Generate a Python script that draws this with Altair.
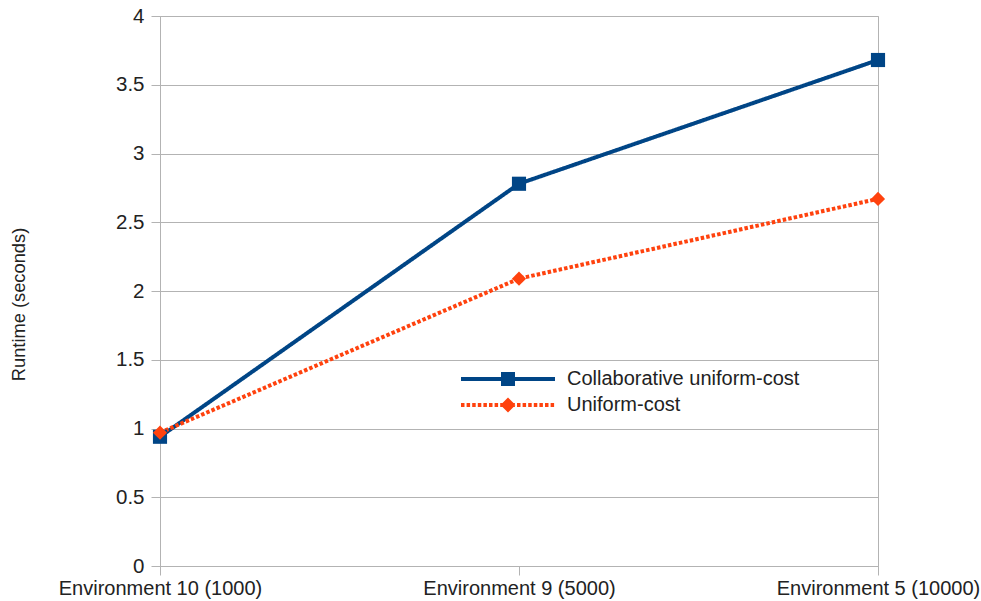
import altair as alt
import pandas as pd

categories = ["Environment 10 (1000)", "Environment 9 (5000)", "Environment 5 (10000)"]
series = ["Collaborative uniform-cost", "Uniform-cost"]
collab_values = [0.94, 2.78, 3.68]
uniform_values = [0.97, 2.09, 2.67]
y_ticks = [0, 0.5, 1, 1.5, 2, 2.5, 3, 3.5, 4]

rows = []
for s, vals in zip(series, [collab_values, uniform_values]):
    for c, v in zip(categories, vals):
        rows.append({"env": c, "series": s, "runtime": v})
df = pd.DataFrame(rows)

BLUE = "#004586"
ORANGE = "#ff420e"
FONT = "Liberation Sans"
TXT = "#222222"
GRID = "#b3b3b3"

# legend symbol paths (unit = half symbol width)
R = 47.0
def f(v):
    return f"{v:.4f}"
t = 2.0 / R
a = 7.0 / R
blue_path = (f"M-1,{f(-t)}L1,{f(-t)}L1,{f(t)}L-1,{f(t)}Z"
             f"M{f(-a)},{f(-a)}L{f(a)},{f(-a)}L{f(a)},{f(a)}L{f(-a)},{f(a)}Z")
dash, period = 3.5 / R, 5.6 / R
parts = []
x0 = -1.0
while x0 < 1.0:
    x1 = min(x0 + dash, 1.0)
    parts.append(f"M{f(x0)},{f(-t)}L{f(x1)},{f(-t)}L{f(x1)},{f(t)}L{f(x0)},{f(t)}Z")
    x0 += period
d = 7.5 / R
orange_path = "".join(parts) + f"M0,{f(-d)}L{f(d)},0L0,{f(d)}L{f(-d)},0Z"

color_scale = alt.Scale(domain=series, range=[BLUE, ORANGE])

x_enc = alt.X("env:N", sort=categories, scale=alt.Scale(type="point", padding=0),
              axis=alt.Axis(title=None, labelAngle=0, grid=False, domain=True, domainColor=GRID,
                            tickColor=GRID, tickSize=9, labelPadding=3, labelLimit=0,
                            labelFont=FONT, labelFontSize=20, labelColor=TXT))
y_enc = alt.Y("runtime:Q", scale=alt.Scale(domain=[0, 4], nice=False),
              axis=alt.Axis(values=y_ticks, format="~g", title="Runtime (seconds)",
                            grid=True, gridColor=GRID, domainColor=GRID, tickColor=GRID,
                            tickSize=9, labelPadding=7, labelFont=FONT, labelFontSize=20.5,
                            labelColor=TXT, titleFont=FONT, titleFontSize=18.3,
                            titleFontWeight="normal", titleColor=TXT,
                            titleX=-141, titleY=288, titleAngle=270,
                            titleAlign="center", titleBaseline="middle"))

lines = alt.Chart(df).mark_line(strokeWidth=4, strokeCap="butt").encode(
    x=x_enc, y=y_enc,
    color=alt.Color("series:N", scale=color_scale, legend=None),
    strokeDash=alt.StrokeDash("series:N", scale=alt.Scale(domain=series, range=[[1, 0], [3.5, 2.1]]), legend=None),
)

points = alt.Chart(df).mark_point(filled=True, opacity=1, strokeWidth=0).encode(
    x=x_enc, y=y_enc,
    color=alt.Color("series:N", scale=color_scale, legend=None),
    shape=alt.Shape("series:N", scale=alt.Scale(domain=series, range=["square", "diamond"]), legend=None),
    size=alt.Size("series:N", scale=alt.Scale(domain=series, range=[200, 200]), legend=None),
)


def legend_layer(name, color, path, ly):
    lg = alt.Legend(
        title=None, orient="none", legendX=301, legendY=ly, padding=0,
        symbolType=path, symbolFillColor=color,
        symbolSize=(2 * R) ** 2, symbolStrokeWidth=0, symbolOpacity=1, clipHeight=26, rowPadding=0,
        labelOffset=12, labelFont=FONT, labelFontSize=20, labelColor=TXT, labelLimit=0,
    )
    return alt.Chart(df[df["series"] == name]).mark_point(filled=True, opacity=0, strokeWidth=0).encode(
        x=x_enc, y=y_enc,
        color=alt.Color("series:N", scale=alt.Scale(domain=[name], range=[color]), legend=lg),
    )


leg_a = legend_layer(series[0], BLUE, blue_path, 350)
leg_b = legend_layer(series[1], ORANGE, orange_path, 376)

chart = alt.layer(lines, points, leg_a, leg_b).resolve_scale(
    color="independent", shape="independent", size="independent"
).resolve_legend(color="independent").properties(
    width=718, height=550,
    autosize=alt.AutoSizeParams(type="none"),
    padding={"left": 160, "top": 16, "right": 103, "bottom": 35},
    background="white",
).configure_view(stroke=GRID, strokeWidth=1)

chart.save("out.html", embed_options={"renderer": "svg", "actions": False})
